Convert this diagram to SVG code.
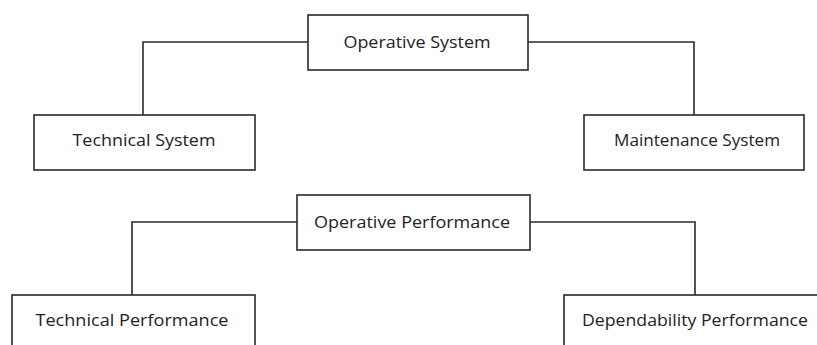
<svg xmlns="http://www.w3.org/2000/svg" width="817" height="345" viewBox="0 0 817 345">
<style>
.box{fill:#fff;stroke:#2a2a2a;stroke-width:1.6}
.conn{fill:none;stroke:#2a2a2a;stroke-width:1.6}
.lbl{font-family:"Open Sans","Liberation Sans",sans-serif;font-size:17px;fill:#222;text-anchor:middle}
</style>
<rect width="817" height="345" fill="#fff"/>
<g id="connectors">
<path class="conn" d="M308,42 H143 V115"/>
<path class="conn" d="M528,42 H694 V115"/>
<path class="conn" d="M297,222 H132 V295"/>
<path class="conn" d="M530,222 H695 V295"/>
</g>
<g id="operative-system">
<rect class="box" x="308" y="15" width="220" height="55"/>
<text class="lbl" x="417" y="48" textLength="147" lengthAdjust="spacingAndGlyphs">Operative System</text>
</g>
<g id="technical-system">
<rect class="box" x="34" y="115" width="221" height="55"/>
<text class="lbl" x="144" y="146" textLength="143" lengthAdjust="spacingAndGlyphs">Technical System</text>
</g>
<g id="maintenance-system">
<rect class="box" x="584" y="115" width="220" height="55"/>
<text class="lbl" x="697" y="146" textLength="166" lengthAdjust="spacingAndGlyphs">Maintenance System</text>
</g>
<g id="operative-performance">
<rect class="box" x="297" y="195" width="233" height="55"/>
<text class="lbl" x="412" y="228" textLength="196" lengthAdjust="spacingAndGlyphs">Operative Performance</text>
</g>
<g id="technical-performance">
<rect class="box" x="12" y="295" width="243" height="60"/>
<text class="lbl" x="132" y="326" textLength="193" lengthAdjust="spacingAndGlyphs">Technical Performance</text>
</g>
<g id="dependability-performance">
<rect class="box" x="564" y="295" width="260" height="60"/>
<text class="lbl" x="695" y="326" textLength="226" lengthAdjust="spacingAndGlyphs">Dependability Performance</text>
</g>
</svg>
